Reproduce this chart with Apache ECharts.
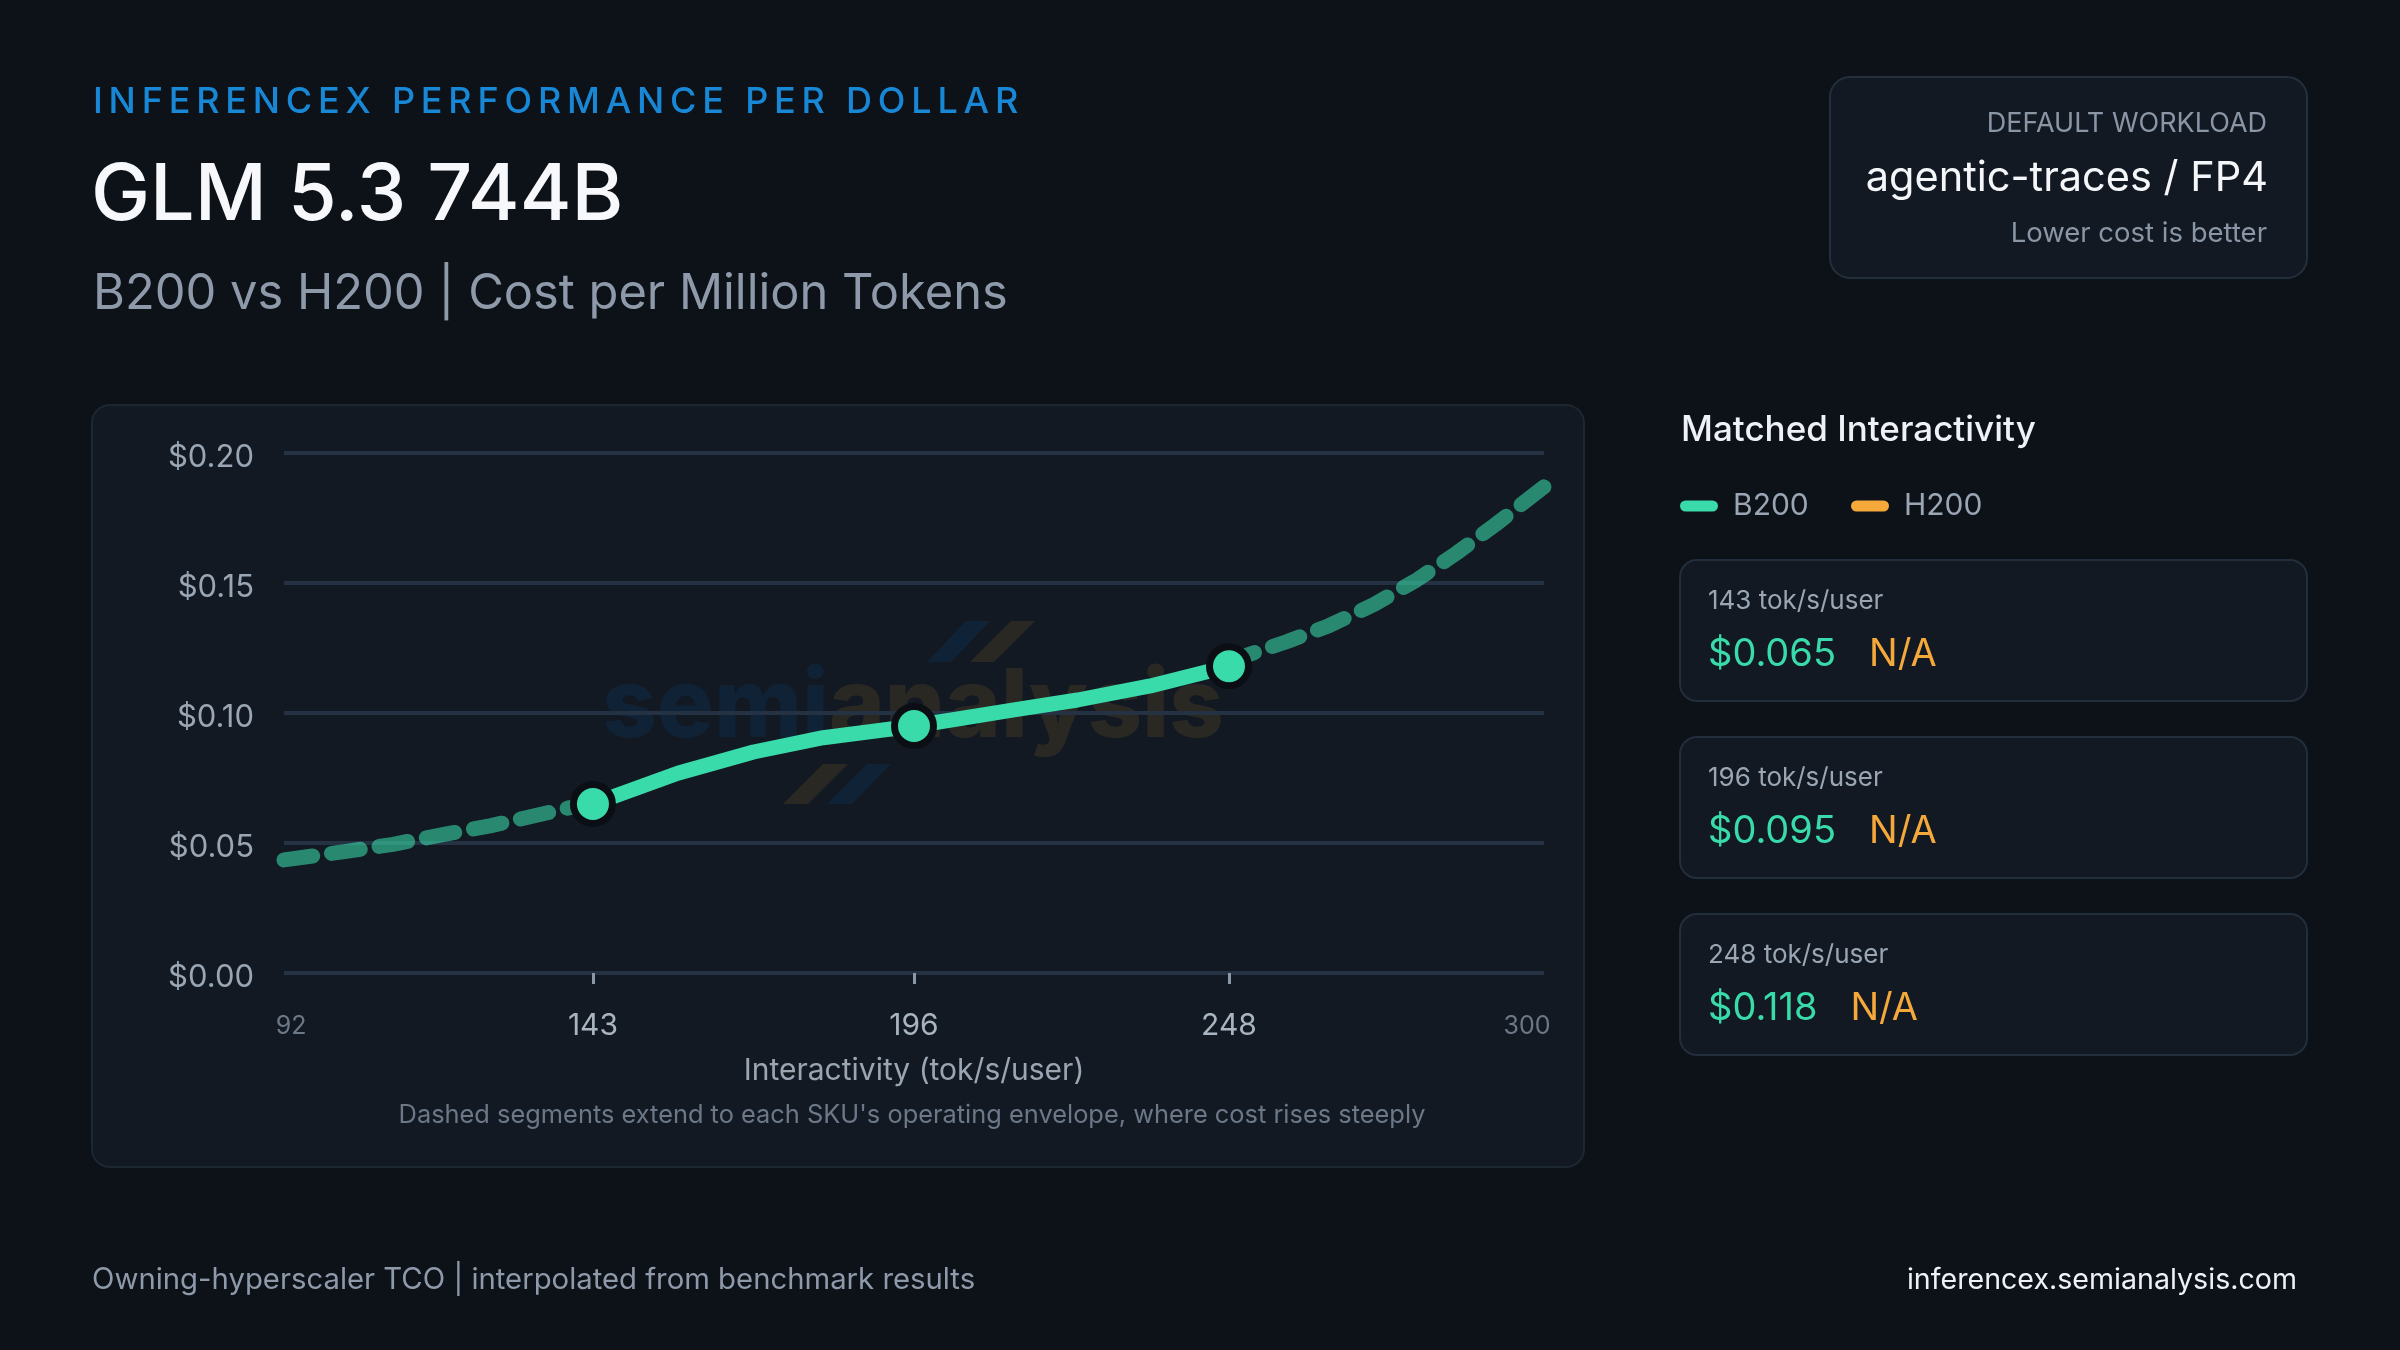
<!DOCTYPE html>
<html>
<head>
<meta charset="utf-8">
<script src="https://cdn.jsdelivr.net/npm/echarts@6/dist/echarts.min.js"></script>
<style>
html,body{margin:0;padding:0;background:#0d1118;}
#wrap{position:relative;width:2400px;height:1350px;}
#c{position:absolute;left:0;top:0;width:2400px;height:1350px;}
#eb{position:absolute;left:60px;top:70px;width:1100px;height:60px;}
</style>
</head>
<body>
<div id="wrap"><div id="c"></div><div id="eb"></div></div>
<script>
// ---------- data ----------
const eyebrow = 'INFERENCEX PERFORMANCE PER DOLLAR';
const title = 'GLM 5.3 744B';
const subtitle = 'B200 vs H200 | Cost per Million Tokens';
const workloadLabel = 'DEFAULT WORKLOAD';
const workloadName = 'agentic-traces / FP4';
const workloadNote = 'Lower cost is better';
const panelTitle = 'Matched Interactivity';
const legendNames = ['B200', 'H200'];
const xAxisName = 'Interactivity (tok/s/user)';
const chartNote = "Dashed segments extend to each SKU's operating envelope, where cost rises steeply";
const footerLeft = 'Owning-hyperscaler TCO | interpolated from benchmark results';
const footerRight = 'inferencex.semianalysis.com';
const watermarkA = 'semi';
const watermarkB = 'analysis';

// B200 curve: dashed low envelope, solid matched range, dashed high envelope
const lowX = [92, 102, 110, 118, 126, 133, 139, 143];
const lowCost = [0.0435, 0.0467, 0.0495, 0.0531, 0.0566, 0.0603, 0.0635, 0.065];
const midX = [143, 157, 169.5, 181, 196, 212.5, 223, 235, 248];
const midCost = [0.065, 0.0768, 0.085, 0.0905, 0.095, 0.1012, 0.105, 0.1104, 0.118];
const highX = [248, 251, 257.5, 264.5, 272, 279, 285.5, 292, 300];
const highCost = [0.118, 0.1223, 0.1274, 0.1336, 0.1418, 0.1512, 0.1614, 0.1725, 0.187];

// matched interactivity points
const matchX = [143, 196, 248];
const b200Cost = [0.065, 0.095, 0.118];
const h200Cost = [null, null, null];

// axis ticks
const xLabelValues = [92, 143, 196, 248, 300];
const xTickValues = [143, 196, 248];
const yMin = 0, yMax = 0.2, yStep = 0.05;

// ---------- letter spacing only for the eyebrow canvas ----------
(function () {
  const proto = CanvasRenderingContext2D.prototype;
  const orig = proto.fillText;
  proto.fillText = function () {
    const cv = this.canvas;
    if (cv && cv.closest && cv.closest('#eb') && 'letterSpacing' in this) this.letterSpacing = '5.8px';
    return orig.apply(this, arguments);
  };
})();

const FONT = 'Inter, "Noto Sans", sans-serif';
const GREEN = '#38dba9';
const ORANGE = '#f5a93b';
const pair = (xs, ys) => xs.map((x, i) => [x, ys[i]]);

function txt(x, y, text, size, color, opts) {
  return {
    type: 'text', x: x, y: y, z: 5, silent: true,
    style: Object.assign({
      text: text, fill: color, fontSize: size, fontFamily: FONT,
      fontWeight: 400, align: 'left', verticalAlign: 'middle'
    }, opts || {})
  };
}

const graphics = [];
// chart card
graphics.push({ type: 'rect', z: -5, silent: true,
  shape: { x: 92, y: 405, width: 1492, height: 762, r: 18 },
  style: { fill: '#121922', stroke: '#1d2731', lineWidth: 2 } });
// header
graphics.push(txt(91, 196, title, 79, '#f6f8fb', { fontWeight: 500 }));
graphics.push(txt(93, 294, subtitle, 48.8, '#8e9aaa'));
// workload card
graphics.push({ type: 'rect', z: -5, silent: true,
  shape: { x: 1830, y: 77, width: 477, height: 201, r: 20 },
  style: { fill: '#121922', stroke: '#232f3c', lineWidth: 2 } });
graphics.push(txt(2267, 124, workloadLabel, 27, '#8a96a6', { align: 'right' }));
graphics.push(txt(2268, 179, workloadName, 41.5, '#f4f6f9', { align: 'right' }));
graphics.push(txt(2267, 234, workloadNote, 27.5, '#8a96a6', { align: 'right' }));
// side panel
graphics.push(txt(1681, 430, panelTitle, 35, '#eef2f6', { fontWeight: 500 }));
const legendColors = [GREEN, ORANGE];
const legendX = [1680, 1851];
legendNames.forEach((n, i) => {
  graphics.push({ type: 'rect', z: 5, silent: true,
    shape: { x: legendX[i], y: 500.5, width: 38, height: 11, r: 5.5 },
    style: { fill: legendColors[i] } });
  graphics.push(txt(legendX[i] + 53, 506, n, 30, '#9aa6b4'));
});
matchX.forEach((x, i) => {
  const top = 560 + i * 177;
  graphics.push({ type: 'rect', z: -5, silent: true,
    shape: { x: 1680, y: top, width: 627, height: 141, r: 17 },
    style: { fill: '#121922', stroke: '#222e3b', lineWidth: 2 } });
  graphics.push(txt(1708, top + 41, x + ' tok/s/user', 26, '#9aa6b4'));
  const b = b200Cost[i] == null ? 'N/A' : '$' + b200Cost[i].toFixed(3);
  const h = h200Cost[i] == null ? 'N/A' : '$' + h200Cost[i].toFixed(3);
  graphics.push(txt(1708, top + 95, '{v|' + b + '}{g|}{n|' + h + '}', 38, GREEN, {
    rich: {
      v: { fontSize: 38, fontFamily: FONT, fill: GREEN },
      g: { fontSize: 38, fontFamily: FONT, width: 33 },
      n: { fontSize: 38, fontFamily: FONT, fill: ORANGE }
    }
  }));
});
// chart note
graphics.push(txt(912, 1115, chartNote, 25.4, '#6c7888', { align: 'center' }));
// footer
graphics.push(txt(92, 1280, footerLeft, 29.3, '#8e9aaa'));
graphics.push(txt(2297, 1280, footerRight, 28.6, '#eef2f6', { align: 'right' }));
// watermark
graphics.push({ type: 'group', z: 20, silent: true, children: [
  { type: 'polygon', shape: { points: [[927, 662], [951, 662], [990, 621], [966, 621]] }, style: { fill: '#0a6fd0', opacity: 0.12 } },
  { type: 'polygon', shape: { points: [[970, 662], [994, 662], [1035, 621], [1011, 621]] }, style: { fill: '#db9f34', opacity: 0.12 } },
  { type: 'polygon', shape: { points: [[783, 804], [808, 804], [848, 764], [823, 764]] }, style: { fill: '#db9f34', opacity: 0.12 } },
  { type: 'polygon', shape: { points: [[827, 804], [852, 804], [891, 764], [867, 764]] }, style: { fill: '#0a6fd0', opacity: 0.12 } },
  { type: 'text', x: 913, y: 708, style: {
      text: '{a|' + watermarkA + '}{b|' + watermarkB + '}', align: 'center', verticalAlign: 'middle', opacity: 0.12,
      rich: {
        a: { fontSize: 95, fontWeight: 800, fontFamily: FONT, fill: '#0a6fd0' },
        b: { fontSize: 95, fontWeight: 800, fontFamily: FONT, fill: '#db9f34' }
      } } }
]});

const chart = echarts.init(document.getElementById('c'), null, { renderer: 'canvas', width: 2400, height: 1350 });
chart.setOption({
  backgroundColor: '#0d1118',
  animation: false,
  textStyle: { fontFamily: FONT },
  grid: { left: 284, right: 856, top: 453, bottom: 377, containLabel: false },
  xAxis: {
    type: 'value', min: 92, max: 300,
    axisLine: { show: false },
    splitLine: { show: false },
    axisTick: { show: true, customValues: xTickValues, length: 11, lineStyle: { color: '#8c97a5', width: 3 } },
    axisLabel: {
      customValues: xLabelValues, margin: 53, verticalAlign: 'middle',
      formatter: function (v) {
        if (v === xLabelValues[0]) return '{dl|' + v + '}';
        if (v === xLabelValues[xLabelValues.length - 1]) return '{dr|' + v + '}';
        return '{m|' + v + '}';
      },
      rich: {
        m: { fontSize: 30, color: '#a9b4c1', fontFamily: FONT, lineHeight: 36 },
        dl: { fontSize: 25, color: '#6c7888', fontFamily: FONT, lineHeight: 36, padding: [0, 0, 0, 14] },
        dr: { fontSize: 25, color: '#6c7888', fontFamily: FONT, lineHeight: 36, padding: [0, 34, 0, 0] }
      }
    },
    name: xAxisName, nameLocation: 'middle', nameGap: 98,
    nameTextStyle: { fontSize: 30, color: '#9aa6b4', fontFamily: FONT, verticalAlign: 'middle' }
  },
  yAxis: {
    type: 'value', min: yMin, max: yMax, interval: yStep,
    axisLine: { show: false }, axisTick: { show: false },
    axisLabel: {
      formatter: v => '{y|$' + v.toFixed(2) + '}', margin: 30,
      rich: { y: { color: '#9aa6b4', fontSize: 31, fontFamily: FONT, padding: [9, 0, 0, 0] } }
    },
    splitLine: { lineStyle: { color: '#253243', width: 4 } }
  },
  graphic: graphics,
  series: [
    { name: 'B200 low envelope', type: 'line', data: pair(lowX, lowCost), showSymbol: false, smooth: false, z: 2,
      lineStyle: { color: GREEN, opacity: 0.58, width: 15, type: [29, 19], cap: 'round', join: 'round' } },
    { name: 'B200 high envelope', type: 'line', data: pair(highX, highCost), showSymbol: false, smooth: false, z: 2,
      lineStyle: { color: GREEN, opacity: 0.58, width: 15, type: [29, 19], cap: 'round', join: 'round' } },
    { name: 'B200', type: 'line', data: pair(midX, midCost), showSymbol: false, smooth: false, z: 3,
      lineStyle: { color: GREEN, width: 15, cap: 'round', join: 'round' } },
    { name: 'B200 matched', type: 'scatter', data: pair(matchX, b200Cost), z: 4, symbolSize: 39,
      itemStyle: { color: GREEN, borderColor: '#0b0f15', borderWidth: 7, opacity: 1 } }
  ]
});

// eyebrow with wide tracking, drawn on its own transparent canvas
const ebChart = echarts.init(document.getElementById('eb'), null, { renderer: 'canvas', width: 1100, height: 60 });
ebChart.setOption({
  animation: false,
  graphic: [txt(33, 32, eyebrow, 36, '#1888d6', { fontWeight: 500 })]
});
</script>
</body>
</html>
